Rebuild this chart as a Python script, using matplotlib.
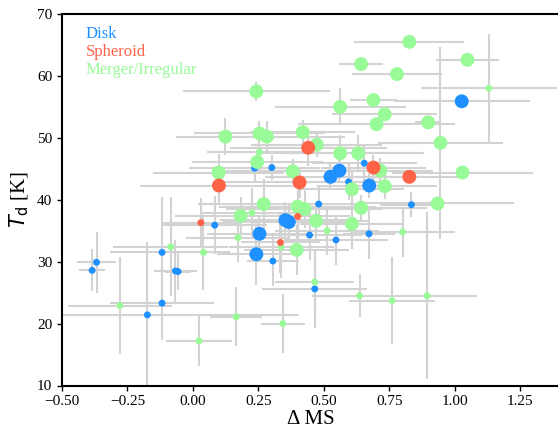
import numpy as np
import matplotlib
matplotlib.use("Agg")
import matplotlib.pyplot as plt

plt.rcParams['font.family'] = 'Liberation Serif'

# --- Disk ---
disk_x = [0.235, 0.301, 1.026, 0.654, 0.525, 0.559, 0.594, 0.673, 0.834, 0.48, 0.445, 0.672, 0.546, 0.465,
          0.366, 0.353, 0.083, 0.254, 0.242, 0.305, -0.118, -0.368, -0.385, -0.067, -0.057, -0.118, -0.174]
disk_y = [45.1, 45.2, 55.9, 45.9, 43.7, 44.7, 42.9, 42.3, 39.2, 39.3, 34.3, 34.5, 33.5, 25.6,
          36.4, 36.7, 35.9, 34.5, 31.2, 30.1, 31.5, 29.9, 28.6, 28.5, 28.4, 23.3, 21.4]
disk_xerr = [0.25, 0.1, 0.26, 0.2, 0.25, 0.2, 0.15, 0.2, 0.12, 0.15, 0.2, 0.1, 0.2, 0.2,
             0.25, 0.25, 0.2, 0.2, 0.15, 0.1, 0.2, 0.074, 0.05, 0.083, 0.05, 0.2, 0.58]
disk_yerr = [2, 2, 1, 3, 2, 2, 3, 2, 2, 3, 4, 4, 4, 6.3,
             3, 3, 4.7, 3, 5, 4, 9, 4.9, 3.4, 5, 3, 6, 11.7]
disk_s = [25, 25, 100, 25, 100, 100, 25, 100, 25, 25, 25, 25, 25, 25,
          100, 100, 25, 100, 100, 25, 25, 25, 25, 25, 25, 25, 25]

# --- Spheroid ---
sph_x = [0.44, 0.099, 0.407, 0.689, 0.826, 0.40, 0.03, 0.334]
sph_y = [48.4, 42.3, 42.8, 45.2, 43.7, 37.3, 36.3, 33.1]
sph_xerr = [0.3, 0.3, 0.3, 0.2, 0.2, 0.2, 0.15, 0.15]
sph_yerr = [3, 3, 2.5, 2, 1, 4, 4, 5]
sph_s = [100, 100, 100, 100, 100, 25, 25, 25]

# --- Merger/Irregular ---
mrg_x = [0.242, 0.124, 0.254, 0.282, 0.419, 0.254, 0.245, 0.098, 0.381, 0.826, 1.048, 0.642, 0.779, 1.13,
         0.689, 0.562, 0.732, 0.701, 0.898, 0.945, 0.473, 0.562, 0.631, 0.715, 1.029, 0.607, 0.732, 0.934,
         0.642, 0.426, 0.47, 0.607, 0.512, 0.80, 0.465, 0.636, 0.76, 0.894, 0.27, 0.40, 0.182, 0.225,
         0.172, 0.337, 0.396, -0.085, 0.04, -0.279, 0.165, 0.343, 0.023]
mrg_y = [57.5, 50.2, 50.7, 50.2, 50.9, 47.7, 46.1, 44.4, 44.6, 65.5, 62.6, 61.9, 60.3, 58.0,
         56.1, 55.0, 53.8, 52.2, 52.5, 49.2, 48.9, 47.5, 47.5, 44.7, 44.4, 41.7, 42.2, 39.4,
         38.7, 38.5, 36.6, 36.1, 35.0, 34.8, 26.7, 24.5, 23.7, 24.5, 39.3, 38.9, 37.4, 37.9,
         33.9, 32.4, 31.9, 32.4, 31.5, 22.9, 21.1, 20.0, 17.2]
mrg_xerr = [0.28, 0.19, 0.25, 0.3, 0.2, 0.2, 0.25, 0.25, 0.3, 0.21, 0.12, 0.084, 0.17, 0.26,
            0.09, 0.25, 0.2, 0.3, 0.05, 0.24, 0.25, 0.3, 0.25, 0.2, 0.27, 0.2, 0.2, 0.29,
            0.25, 0.3, 0.2, 0.2, 0.2, 0.2, 0.15, 0.18, 0.165, 0.19, 0.25, 0.3, 0.25, 0.2,
            0.2, 0.2, 0.2, 0.22, 0.1, 0.2, 0.1, 0.085, 0.125]
mrg_yerr = [1.5, 3, 2, 2.5, 2, 3, 2, 3, 2, 0.5, 0.5, 0.5, 0.5, 8.7,
            0.5, 3, 1, 1, 1, 15.5, 2, 3, 3, 2, 1, 3, 2, 1,
            2, 3, 3, 4, 4, 4, 5, 3.5, 7, 13.5, 4, 3, 3, 4,
            4, 5, 4, 8, 6, 7.8, 4.8, 4.8, 4]
mrg_s = [100, 100, 100, 100, 100, 25, 100, 100, 100, 100, 100, 100, 100, 25,
         100, 100, 100, 100, 100, 100, 100, 100, 100, 100, 100, 100, 100, 100,
         100, 100, 100, 100, 25, 25, 25, 25, 25, 25, 100, 100, 100, 25,
         25, 25, 100, 25, 25, 25, 25, 25, 25]

groups = [
    ("Disk", disk_x, disk_y, disk_xerr, disk_yerr, disk_s, "#1e90ff"),
    ("Merger/Irregular", mrg_x, mrg_y, mrg_xerr, mrg_yerr, mrg_s, "#98fb98"),
    ("Spheroid", sph_x, sph_y, sph_xerr, sph_yerr, sph_s, "#ff6347"),
]
colours = {g[0]: g[6] for g in groups}

fig = plt.figure(figsize=(5.58, 4.33), dpi=100)
ax = fig.add_axes([62 / 558, 47.5 / 433, 1.003 - 62 / 558, (385.5 - 14) / 433])

# error bars first, grey, underneath the points
for name, x, y, xe, ye, s, c in groups:
    ax.errorbar(x, y, xerr=xe, yerr=ye, fmt='none', ecolor='lightgrey', elinewidth=1.5, capsize=0, zorder=1)

handles = {}
for name, x, y, xe, ye, s, c in groups:
    handles[name] = ax.scatter(x, y, s=s, color=c, edgecolors='none', zorder=2, label=name)

order = ["Disk", "Spheroid", "Merger/Irregular"]
leg = ax.legend([handles[k] for k in order], order, loc='upper left', bbox_to_anchor=(0.024, 1.0),
                frameon=False, handlelength=0, handletextpad=0, labelspacing=0.12, fontsize=12,
                borderaxespad=0.3)
for h in leg.legend_handles:
    h.set_visible(False)
for txt, k in zip(leg.get_texts(), order):
    txt.set_color(colours[k])

ax.set_xlim(-0.5, 1.4)
ax.set_ylim(10, 70)
ax.set_xticks([-0.5, -0.25, 0, 0.25, 0.5, 0.75, 1.0, 1.25])
ax.set_yticks([10, 20, 30, 40, 50, 60, 70])
ax.set_xlabel(u'\u0394 MS', fontsize=15, labelpad=1)
ax.set_ylabel(r'$T_{\rm d}$ [K]', fontsize=15, labelpad=4)
ax.tick_params(labelsize=11, direction='out', length=3.5, width=1)
for sp in ax.spines.values():
    sp.set_linewidth(1.5)

fig.savefig("out.png", dpi=100)
